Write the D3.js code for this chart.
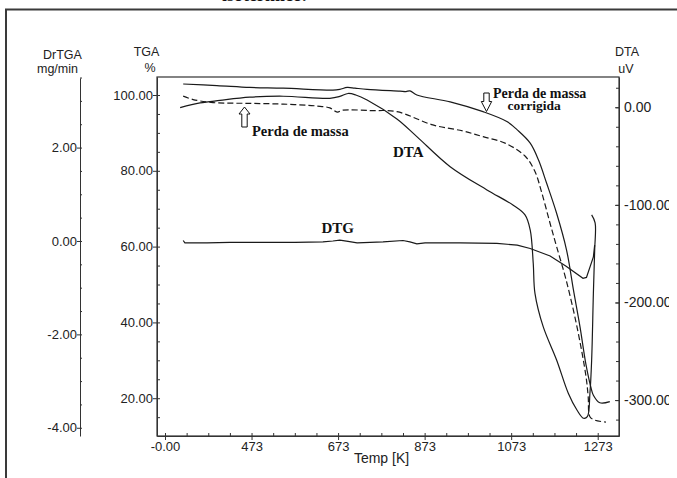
<!DOCTYPE html>
<html>
<head>
<meta charset="utf-8">
<script src="https://cdn.jsdelivr.net/npm/d3@7"></script>
<style>
  body { margin: 0; background: #fff; }
  svg { display: block; }
  .tick text { font-family: "Liberation Sans", Arial, sans-serif; font-size: 13px; fill: #222; }
  .right .tick text { font-size: 14px; }
  .domain, .tick line { stroke: #333; stroke-width: 1; }
  .minor .domain { display: none; }
</style>
</head>
<body>
<svg id="chart" width="677" height="478"></svg>
<script>
// Temperature axis (ticks at 0..1000 step 200, labelled in kelvin as printed)
const xTicks = [0, 200, 400, 600, 800, 1000];
const xTickLabels = ["-0.00", "473", "673", "873", "1073", "1273"];
const tgaTicks = [20, 40, 60, 80, 100];
const drtgaTicks = [-4, -2, 0, 2];
const dtaTicks = [-300, -200, -100, 0];

// TGA, corrected mass loss (%)
const tgaCorrT = [42, 120, 196, 273, 388, 404, 421, 439, 467, 543, 557, 566, 582, 659, 735, 790, 814, 844, 863, 882, 905, 928, 944, 959, 973, 984, 990, 1005, 1028];
const tgaCorr  = [102.9, 102.5, 102.0, 101.8, 101.3, 101.5, 102.0, 101.8, 101.5, 101.0, 100.9, 101.1, 100.0, 98.2, 95.6, 93.0, 90.8, 87.3, 82.9, 76.7, 68.8, 59.1, 48.5, 38.9, 28.8, 23.0, 20.8, 18.8, 19.1];

// TGA, mass loss (%)
const tgaT = [42, 65, 111, 190, 273, 351, 381, 398, 411, 474, 536, 619, 689, 735, 786, 832, 855, 871, 890, 905, 927, 952, 973, 978, 982, 994, 1019];
const tga  = [99.7, 98.8, 98.0, 97.8, 97.6, 97.1, 96.6, 95.5, 96.0, 95.9, 95.6, 92.1, 90.5, 89.0, 87.3, 83.9, 79.8, 74.1, 66.1, 60.0, 51.2, 38.9, 25.7, 20.4, 15.1, 14.2, 13.7];

// DTA (uV)
const dtaT = [35, 81, 127, 196, 273, 381, 404, 423, 441, 467, 536, 582, 659, 744, 804, 832, 844, 851, 855, 874, 905, 932, 952, 967, 976, 982, 986, 990, 993, 994, 986];
const dta  = [-0.4, 4.4, 7.0, 10.3, 11.3, 9.2, 11.1, 14.1, 12.6, 7.5, -12.0, -30.1, -60.9, -84.7, -100.1, -110.3, -125.7, -159.8, -190.6, -224.8, -258.9, -293.0, -310.2, -318.6, -317.0, -293.0, -258.9, -190.6, -146.2, -118.5, -110.3];

// DrTGA (mg/min)
const dtgT = [42, 46, 97, 150, 220, 300, 365, 388, 404, 423, 444, 474, 504, 550, 566, 582, 601, 612, 682, 767, 814, 844, 890, 927, 966, 974, 990, 993];
const dtg  = [0.01, -0.04, -0.04, -0.03, -0.03, -0.03, -0.02, 0.0, 0.02, -0.01, -0.04, -0.03, -0.02, 0.01, -0.02, -0.06, -0.04, -0.04, -0.04, -0.05, -0.09, -0.16, -0.32, -0.54, -0.80, -0.78, -0.34, -0.09];

const svg = d3.select("#chart");
const P = { left: 157, right: 619, top: 77, bottom: 436 };

const x = d3.scaleLinear().domain([-18.5, 1049.2]).range([P.left, P.right]);
const yTga = d3.scaleLinear().domain([10.03, 104.75]).range([P.bottom, P.top]);
const yDr = d3.scaleLinear().domain([-4.176, 3.49]).range([P.bottom, 78]);
const yDta = d3.scaleLinear().domain([-336.8, 31.0]).range([P.bottom, P.top]);

// the right-hand labels are cut by the figure's trimmed edge
svg.append("defs").append("clipPath").attr("id", "trim")
  .append("rect").attr("x", 0).attr("y", 0).attr("width", 669).attr("height", 478);

// outer frame
svg.append("rect").attr("x", 6).attr("y", 9.5).attr("width", 690).attr("height", 480)
  .attr("fill", "none").attr("stroke", "#3a3a3a").attr("stroke-width", 2);

// caption fragment at the top edge
svg.append("text").attr("x", 222).attr("y", 0.8)
  .attr("font-family", "'Liberation Serif', 'Times New Roman', serif").attr("font-weight", "bold")
  .attr("font-size", 18).attr("fill", "#111").text("isotérmico.");

// plot frame
svg.append("rect").attr("x", P.left).attr("y", P.top)
  .attr("width", P.right - P.left).attr("height", P.bottom - P.top)
  .attr("fill", "none").attr("stroke", "#333").attr("stroke-width", 1.2);

// X axis
svg.append("g").attr("transform", `translate(0,${P.bottom})`)
  .call(d3.axisBottom(x).tickValues(xTicks).tickFormat((d, i) => xTickLabels[i]).tickSize(4).tickPadding(2).tickSizeOuter(0));
svg.append("g").attr("class", "minor").attr("transform", `translate(0,${P.bottom})`)
  .call(d3.axisBottom(x).tickValues(d3.range(0, 1001, 50)).tickFormat("").tickSize(-3).tickSizeOuter(0));

// TGA axis
svg.append("g").attr("transform", `translate(${P.left},0)`)
  .call(d3.axisLeft(yTga).tickValues(tgaTicks).tickFormat(d => d.toFixed(2)).tickSize(4).tickPadding(0).tickSizeOuter(0));
svg.append("g").attr("class", "minor").attr("transform", `translate(${P.left},0)`)
  .call(d3.axisLeft(yTga).tickValues(d3.range(15, 101, 5)).tickFormat("").tickSize(-3).tickSizeOuter(0));

// DrTGA axis
svg.append("g").attr("transform", "translate(80,0)")
  .call(d3.axisLeft(yDr).tickValues(drtgaTicks).tickFormat(d => d.toFixed(2)).tickSize(3).tickPadding(0).tickSizeOuter(0));
svg.append("g").attr("class", "minor").attr("transform", "translate(80,0)")
  .call(d3.axisLeft(yDr).tickValues(d3.range(-4, 3.51, 0.5)).tickFormat("").tickSize(-2).tickSizeOuter(0));

// DTA axis
svg.append("g").attr("clip-path", "url(#trim)").append("g").attr("class", "right")
  .attr("transform", `translate(${P.right},0)`)
  .call(d3.axisRight(yDta).tickValues(dtaTicks).tickFormat(d => d.toFixed(2)).tickSize(-4).tickPadding(5).tickSizeOuter(0));
svg.append("g").attr("class", "minor").attr("transform", `translate(${P.right},0)`)
  .call(d3.axisRight(yDta).tickValues(d3.range(-320, 21, 20)).tickFormat("").tickSize(-3).tickSizeOuter(0));

// axis titles
const sans = "'Liberation Sans', Arial, sans-serif";
function title(tx, ty, s, size) {
  svg.append("text").attr("x", tx).attr("y", ty).attr("text-anchor", "middle")
    .attr("font-family", sans).attr("font-size", size || 12.5).attr("fill", "#222").text(s);
}
title(62.5, 58.5, "DrTGA");
title(57.5, 72.5, "mg/min");
title(146.5, 56, "TGA");
title(150, 72, "%");
title(627, 56, "DTA");
title(626, 72.5, "uV");
title(381.5, 463, "Temp [K]", 14);

// curves
const zip = (ts, vs) => ts.map((t, i) => [t, vs[i]]);
const smooth = d3.curveCatmullRom.alpha(0.5);
function curve(data, ys, dash, cv) {
  svg.append("path")
    .datum(data)
    .attr("fill", "none")
    .attr("stroke", "#1a1a1a")
    .attr("stroke-width", 1.2)
    .attr("stroke-dasharray", dash || null)
    .attr("d", d3.line().x(d => x(d[0])).y(d => ys(d[1])).curve(cv || smooth));
}
curve(zip(tgaCorrT, tgaCorr), yTga);
curve(zip(tgaT, tga), yTga, "6,3");
curve(zip(dtaT, dta), yDta);
curve(zip(dtgT, dtg), yDr, null, d3.curveLinear);

// annotations
const serif = "'Liberation Serif', 'Times New Roman', serif";
function note(tx, ty, s, size) {
  svg.append("text").attr("x", tx).attr("y", ty)
    .attr("font-family", serif).attr("font-weight", "bold")
    .attr("font-size", size || 15).attr("fill", "#111").text(s);
}
note(252, 136, "Perda de massa", 14.5);
note(493, 97.5, "Perda de massa", 14);
note(507.5, 109.5, "corrigida", 13.5);
note(393, 157.3, "DTA");
note(321.5, 232.7, "DTG");

// hollow arrows
function arrowUp(cx, tip, base) {
  const pts = [[cx, tip], [cx + 5.5, tip + 7], [cx + 2.7, tip + 7], [cx + 2.7, base], [cx - 2.7, base], [cx - 2.7, tip + 7], [cx - 5.5, tip + 7]];
  svg.append("polygon").attr("points", pts.map(p => p.join(",")).join(" "))
    .attr("fill", "#fff").attr("stroke", "#111").attr("stroke-width", 1);
}
function arrowDown(cx, tip, top) {
  const pts = [[cx, tip], [cx + 5.2, tip - 10], [cx + 2.7, tip - 10], [cx + 2.7, top], [cx - 2.7, top], [cx - 2.7, tip - 10], [cx - 5.2, tip - 10]];
  svg.append("polygon").attr("points", pts.map(p => p.join(",")).join(" "))
    .attr("fill", "#fff").attr("stroke", "#111").attr("stroke-width", 1);
}
arrowUp(244.5, 107, 127);
arrowDown(486.5, 111.5, 93);
</script>
</body>
</html>
